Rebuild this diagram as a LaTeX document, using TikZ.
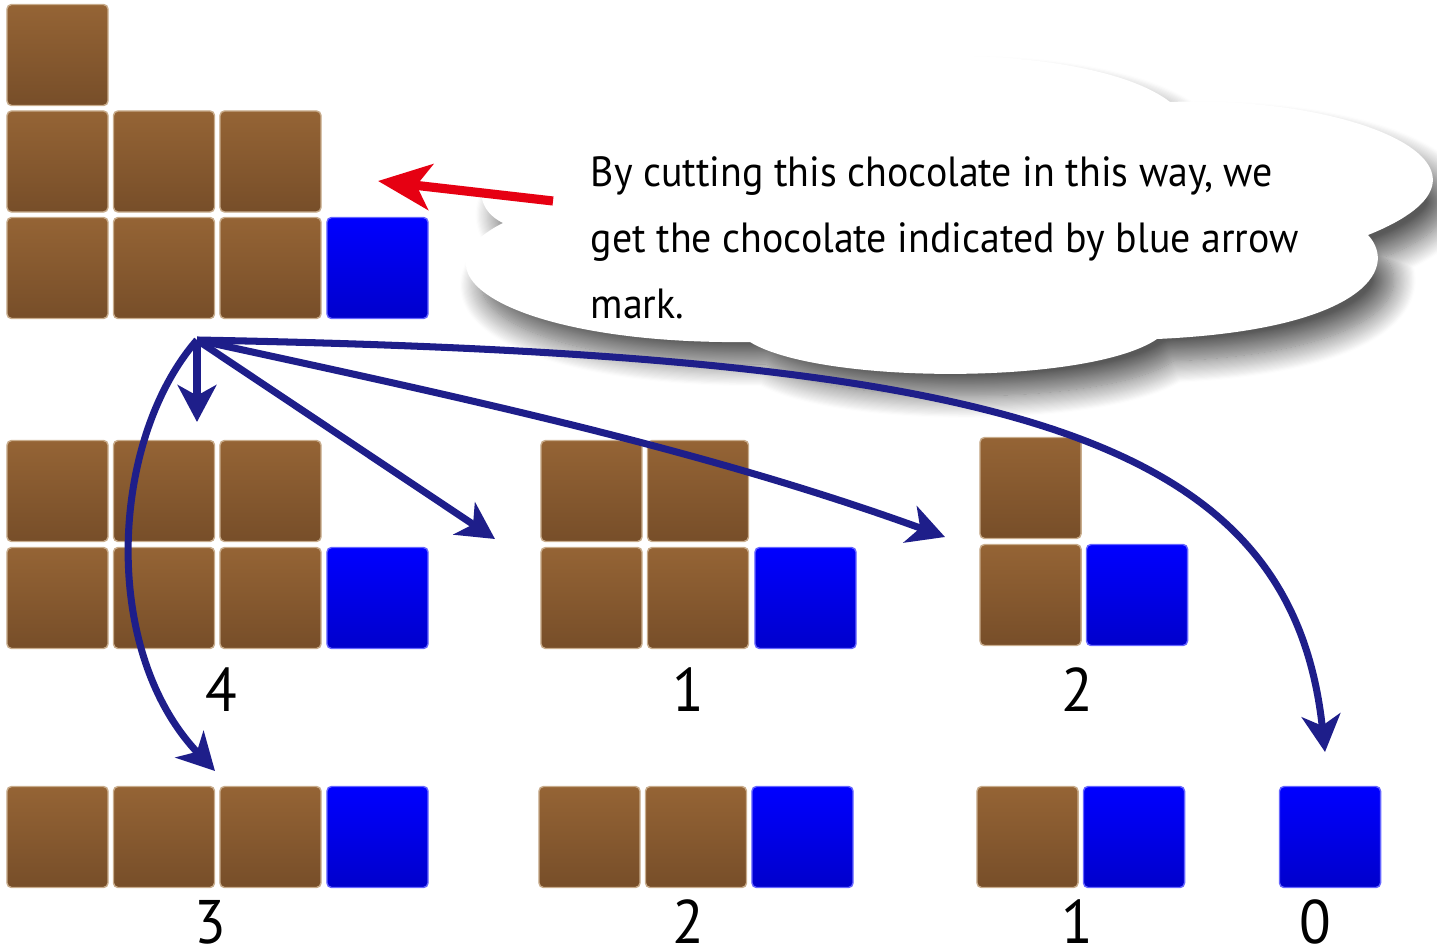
\documentclass[tikz,border=0pt]{standalone}
\usepackage{fontspec}
\setmainfont{PT Sans}[FakeStretch=0.945]
\usetikzlibrary{arrows.meta,shadows.blur}
\definecolor{chocTop}{RGB}{149,100,53}
\definecolor{chocBot}{RGB}{119,78,41}
\definecolor{chocEdge}{RGB}{200,172,140}
\definecolor{biteTop}{RGB}{0,0,255}
\definecolor{biteBot}{RGB}{0,0,204}
\definecolor{cutNavy}{RGB}{30,30,138}
\definecolor{cutRed}{RGB}{230,0,18}

\begin{document}
\begin{tikzpicture}[x=0.01cm,y=-0.01cm,
  choc/.style={rectangle,rounded corners=1.3pt,minimum size=1.01cm,inner sep=0pt,
    top color=chocTop,bottom color=chocBot,draw=chocEdge,line width=0.4pt},
  bite/.style={choc,top color=biteTop,bottom color=biteBot,draw=biteTop!60!white},
  num/.style={font=\fontsize{17.5}{20}\selectfont},
  cut/.style={draw=cutNavy,line width=2pt,-{Stealth[length=10.5pt,width=11pt,inset=3pt]}},
  point/.style={draw=cutRed,line width=2.6pt,-{Stealth[length=15pt,width=13pt,inset=4pt]}}]
  \useasboundingbox (0,0) rectangle (1437,946);

  \foreach \i/\j in {0/0,0/1,1/1,2/1,0/2,1/2,2/2}
    \node[choc] (a\i\j) at ({57.5+106.5*\i},{55+106.5*\j}) {};
  \node[bite] (a32) at (377.5,268) {};

  \foreach \i in {0,1,2} {
    \node[choc] (b\i0) at ({57.5+106.5*\i},491) {};
    \node[choc] (b\i1) at ({57.5+106.5*\i},598) {};
  }
  \node[bite] (b31) at (377.5,598) {};
  \node[num] (nb) at (221,690) {4};

  \foreach \i in {0,1} {
    \node[choc] (c\i0) at ({591.5+106.5*\i},491) {};
    \node[choc] (c\i1) at ({591.5+106.5*\i},598) {};
  }
  \node[bite] (c21) at (805.5,598) {};
  \node[num] (nc) at (688,690) {1};

  \node[choc] (d00) at (1030.5,488) {};
  \node[choc] (d01) at (1030.5,595) {};
  \node[bite] (d11) at (1137,595) {};
  \node[num] (nd) at (1077,690) {2};

  \foreach \i in {0,1,2} \node[choc] (e\i) at ({57.5+106.5*\i},837) {};
  \node[bite] (e3) at (377.5,837) {};
  \node[num] (ne) at (210,922) {3};

  \foreach \i in {0,1} \node[choc] (f\i) at ({589.5+106.5*\i},837) {};
  \node[bite] (f2) at (802.5,837) {};
  \node[num] (nf) at (688,922) {2};

  \node[choc] (g0) at (1027.5,837) {};
  \node[bite] (g1) at (1134,837) {};
  \node[num] (ng) at (1077,922) {1};

  \node[bite] (h0) at (1330,837) {};
  \node[num] (nh) at (1315,922) {0};

  % speech cloud
  \fill[white,blur shadow={shadow xshift=0.16cm,shadow yshift=-0.22cm,
      shadow blur radius=0.22cm,shadow blur steps=20,shadow opacity=65}]
    (503,223) .. controls (455,200) and (470,115) .. (727,105)
    .. controls (800,40) and (1090,40) .. (1170,102)
    .. controls (1360,95) and (1530,170) .. (1368,235)
    .. controls (1400,270) and (1360,330) .. (1157,339)
    .. controls (1090,385) and (820,385) .. (750,342)
    .. controls (520,345) and (400,275) .. cycle;
  \node[anchor=north west,align=left,inner sep=0pt,font=\fontsize{12}{18.8}\selectfont]
    (msg) at (590,156) {By cutting this chocolate in this way, we\\
    get the chocolate indicated by blue arrow\\ mark.};

  \coordinate (src) at (197,340);
  \coordinate (tb) at (197,422);
  \coordinate (tc) at (495,539);
  \coordinate (td) at (945,537);
  \coordinate (th) at (1325,752);
  \coordinate (te) at (215,771);
  \draw[cut] (src) -- (tb);
  \draw[cut] (src) -- (tc);
  \draw[cut] (src) .. controls (450,395) and (700,448) .. (td);
  \draw[cut] (src) .. controls (1000,355) and (1290,430) .. (th);
  \draw[cut] (src) .. controls (110,440) and (100,650) .. (te);

  \coordinate (tail) at (553,201);
  \coordinate (ta) at (378,181);
  \draw[point] (tail) -- (ta);
\end{tikzpicture}
\end{document}
